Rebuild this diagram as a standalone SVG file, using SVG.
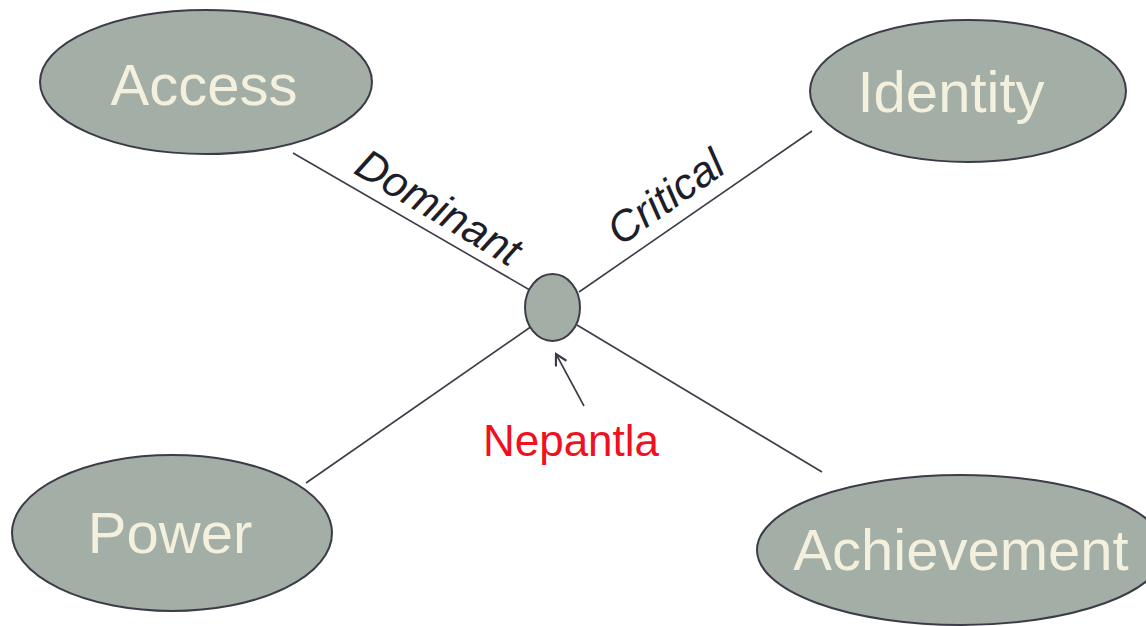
<svg xmlns="http://www.w3.org/2000/svg" width="1146" height="626" viewBox="0 0 1146 626">
<defs>
<style>
.node{fill:#a3aea7;stroke:#3c3c48;stroke-width:2}
.lbl{font-family:"Liberation Sans",Arial,sans-serif;font-size:58px;fill:#f3f1de;text-anchor:middle}
.conn{stroke:#3c3c48;stroke-width:1.6;fill:none}
.edge{font-family:"Liberation Sans",Arial,sans-serif;font-size:43px;font-style:italic;fill:#1e1e28;text-anchor:middle}
</style>
<marker id="open" viewBox="0 0 14 14" refX="12" refY="7" markerWidth="14" markerHeight="14" markerUnits="userSpaceOnUse" orient="auto">
<path d="M1,1 L12,7 L1,13" fill="none" stroke="#3c3c48" stroke-width="2.2"/>
</marker>
</defs>
<rect width="1146" height="626" fill="#ffffff"/>
<g id="connectors">
<line class="conn" x1="293" y1="153" x2="535" y2="293"/>
<line class="conn" x1="579" y1="292" x2="812" y2="131"/>
<line class="conn" x1="306" y1="483" x2="532" y2="326"/>
<line class="conn" x1="577" y1="325" x2="822" y2="472"/>
<line class="conn" x1="584" y1="406" x2="556" y2="354" marker-end="url(#open)"/>
<text class="edge" transform="translate(431,220) rotate(31)">Dominant</text>
<text class="edge" transform="translate(674,209) rotate(-35)">Critical</text>
</g>
<g id="access"><ellipse class="node" cx="206" cy="82" rx="166" ry="72"/><text class="lbl" x="204" y="105">Access</text></g>
<g id="identity"><ellipse class="node" cx="968" cy="91" rx="158" ry="71"/><text class="lbl" x="951" y="112">Identity</text></g>
<g id="power"><ellipse class="node" cx="172" cy="533" rx="160" ry="78"/><text class="lbl" x="170" y="553">Power</text></g>
<g id="achievement"><ellipse class="node" cx="961" cy="550" rx="204" ry="75"/><text class="lbl" x="961" y="570">Achievement</text></g>
<g id="nepantla-node"><ellipse class="node" cx="552.5" cy="307.5" rx="27.5" ry="33.5"/></g>
<g id="nepantla-label"><text x="571" y="456" font-family="Liberation Sans, Arial, sans-serif" font-size="44" fill="#f01020" text-anchor="middle">Nepantla</text></g>
</svg>
